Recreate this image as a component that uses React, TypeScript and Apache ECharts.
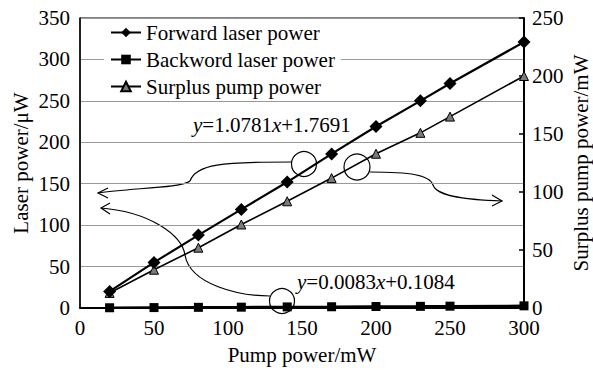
import React, { useEffect, useRef } from "react";
import * as echarts from "echarts";

const pumpPower = [20, 50, 80, 109, 140, 170, 200, 230, 250, 300];
const forwardPower = [20, 55, 88, 119, 152, 186, 219, 250, 271, 321];
const backwardPower = [0.3, 0.5, 0.8, 1.0, 1.3, 1.5, 1.8, 2.0, 2.2, 2.6];
const surplusPower = [13, 33, 52, 72, 92, 112, 133, 151, 165, 200];

const seriesNames = ["Forward laser power", "Backword laser power", "Surplus pump power"];
const eq1 = ["y", "=1.0781", "x", "+1.7691"];
const eq2 = ["y", "=0.0083", "x", "+0.1084"];

const FONT = "Liberation Serif";
const FS = 21;

export default function App() {
  const ref = useRef<HTMLDivElement>(null);
  useEffect(() => {
    if (!ref.current) return;
    const chart = echarts.init(ref.current, undefined, { renderer: "svg" });
    const pair = (ys: number[]) => pumpPower.map((x, i) => [x, ys[i]]);
    const stroke = { stroke: "#000", lineWidth: 1.2, fill: "none" };
    const eqText = (parts: string[]) =>
      `{i|${parts[0]}}{n|${parts[1]}}{i|${parts[2]}}{n|${parts[3]}}`;
    const eqRich = {
      i: { fontStyle: "italic", fontSize: FS, fontFamily: FONT, fill: "#000" },
      n: { fontSize: FS, fontFamily: FONT, fill: "#000" },
    };
    const txt = { fontSize: FS, fontFamily: FONT, color: "#000" };
    chart.setOption({
      animation: false,
      backgroundColor: "#fff",
      textStyle: { fontFamily: FONT, color: "#000" },
      grid: {
        left: 80,
        right: 69,
        top: 18,
        bottom: 62,
        show: true,
        borderColor: "#000",
        borderWidth: 1,
        outerBoundsMode: "none",
        containLabel: false,
      },
      legend: {
        data: seriesNames,
        orient: "vertical",
        left: 104,
        top: 20,
        itemWidth: 30,
        itemHeight: 12,
        itemGap: 6,
        padding: [2, 6, 2, 6],
        backgroundColor: "#fff",
        textStyle: txt,
      },
      xAxis: {
        type: "value",
        min: 0,
        max: 300,
        interval: 50,
        name: "Pump power/mW",
        nameLocation: "middle",
        nameGap: 36,
        nameMoveOverlap: false,
        nameTextStyle: txt,
        axisLine: { lineStyle: { color: "#000", width: 2 } },
        axisTick: { show: false },
        axisLabel: { ...txt, margin: 12, lineHeight: 16 },
        splitLine: { show: false },
      },
      yAxis: [
        {
          type: "value",
          min: 0,
          max: 350,
          interval: 50,
          name: "Laser power/μW",
          nameLocation: "middle",
          nameGap: 48,
          nameMoveOverlap: false,
          nameTextStyle: { ...txt, lineHeight: 22 },
          axisLine: { show: true, lineStyle: { color: "#000", width: 1.5 } },
          axisTick: { show: false },
          axisLabel: { ...txt, margin: 10, lineHeight: 16 },
          splitLine: { show: true, lineStyle: { color: "#999", width: 1 } },
        },
        {
          type: "value",
          min: 0,
          max: 250,
          interval: 50,
          position: "right",
          name: "Surplus pump power/mW",
          nameLocation: "middle",
          nameGap: 46,
          nameMoveOverlap: false,
          nameTextStyle: { ...txt, lineHeight: 22 },
          axisLine: { show: true, lineStyle: { color: "#000", width: 2 } },
          axisTick: { show: true, inside: true, length: 5, lineStyle: { color: "#000", width: 1.5 } },
          axisLabel: { ...txt, margin: 8, lineHeight: 16 },
          splitLine: { show: false },
        },
      ],
      series: [
        {
          name: seriesNames[2],
          type: "line",
          yAxisIndex: 1,
          data: pair(surplusPower),
          symbol: "triangle",
          symbolSize: 9,
          lineStyle: { color: "#000", width: 1.6 },
          itemStyle: { color: "#7a7a7a", borderColor: "#000", borderWidth: 1 },
          z: 2,
        },
        {
          name: seriesNames[0],
          type: "line",
          data: pair(forwardPower),
          symbol: "diamond",
          symbolSize: 13,
          lineStyle: { color: "#000", width: 2.2 },
          itemStyle: { color: "#000" },
          z: 3,
        },
        {
          name: seriesNames[1],
          type: "line",
          data: pair(backwardPower),
          symbol: "rect",
          symbolSize: 9,
          lineStyle: { color: "#000", width: 2.5 },
          itemStyle: { color: "#000" },
          z: 3,
        },
      ],
      graphic: [
        { type: "text", left: 193, top: 114, style: { text: eqText(eq1), rich: eqRich } },
        { type: "text", left: 297, top: 271, style: { text: eqText(eq2), rich: eqRich } },
        { type: "circle", shape: { cx: 304, cy: 164, r: 12.5 }, style: stroke },
        { type: "circle", shape: { cx: 357, cy: 167, r: 13 }, style: stroke },
        { type: "circle", shape: { cx: 282, cy: 301, r: 12.5 }, style: stroke },
        { type: "bezierCurve", shape: { x1: 292, y1: 162, cpx1: 222, cpy1: 162, cpx2: 196, cpy2: 164, x2: 190, y2: 181 }, style: stroke },
        { type: "bezierCurve", shape: { x1: 190, y1: 181, cpx1: 182, cpy1: 188, cpx2: 130, cpy2: 188, x2: 98, y2: 193 }, style: stroke },
        { type: "polyline", shape: { points: [[108, 188], [98, 193], [108, 198]] }, style: stroke },
        { type: "bezierCurve", shape: { x1: 101, y1: 208, cpx1: 150, cpy1: 212, cpx2: 182, cpy2: 235, x2: 185, y2: 255 }, style: stroke },
        { type: "bezierCurve", shape: { x1: 185, y1: 255, cpx1: 190, cpy1: 285, cpx2: 240, cpy2: 296, x2: 270, y2: 296 }, style: stroke },
        { type: "polyline", shape: { points: [[110, 203], [101, 208], [110, 214]] }, style: stroke },
        { type: "bezierCurve", shape: { x1: 370, y1: 172, cpx1: 410, cpy1: 172, cpx2: 430, cpy2: 175, x2: 433, y2: 185 }, style: stroke },
        { type: "bezierCurve", shape: { x1: 433, y1: 185, cpx1: 437, cpy1: 197, cpx2: 470, cpy2: 200, x2: 502, y2: 201 }, style: stroke },
        { type: "polyline", shape: { points: [[492, 195], [502, 201], [492, 206]] }, style: stroke },
      ],
    });
    return () => chart.dispose();
  }, []);
  return (
    <div
      ref={ref}
      style={{ position: "absolute", left: 0, top: 0, width: 593, height: 370, background: "#fff" }}
    />
  );
}
